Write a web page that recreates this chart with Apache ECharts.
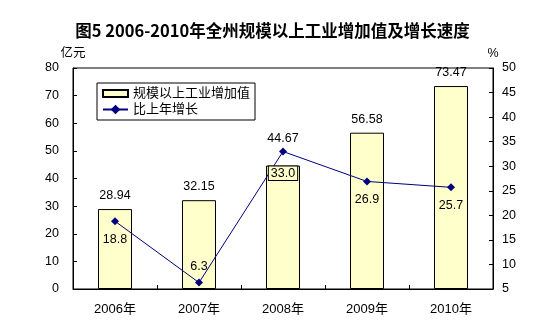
<!DOCTYPE html>
<html>
<head>
<meta charset="utf-8">
<script src="https://cdn.jsdelivr.net/npm/echarts@6/dist/echarts.min.js"></script>
<style>
  html, body { margin: 0; padding: 0; background: #fff; }
  #chart { width: 545px; height: 328px; }
</style>
</head>
<body>
<div id="chart"></div>
<script>
// Industrial value added above designated size, 2006-2010
const years = ['2006年', '2007年', '2008年', '2009年', '2010年'];
const valueAdded = [28.94, 32.15, 44.67, 56.58, 73.47];   // 亿元
const growthRate = [18.8, 6.3, 33.0, 26.9, 25.7];         // %
const growthLabelPos = ['bottom', 'top', 'bottom', 'bottom', 'bottom'];

const latin = 'Arial, "Liberation Sans", "Noto Sans CJK SC", sans-serif';

const chart = echarts.init(document.getElementById('chart'), null, { renderer: 'canvas' });

// the 2008 value label is lifted clear of the growth line
const barData = valueAdded.map((v, i) =>
  i === 2 ? { value: v, label: { distance: 21 } } : { value: v }
);

const growthData = growthRate.map((v, i) => {
  if (i === 2) {
    return {
      value: v,
      label: {
        position: 'bottom',
        distance: 11,
        backgroundColor: '#FFFFCC',
        borderColor: '#000',
        borderWidth: 1,
        padding: [1, 2, 0, 2]
      }
    };
  }
  return {
    value: v,
    label: { position: growthLabelPos[i], distance: growthLabelPos[i] === 'top' ? 6 : 8 }
  };
});

chart.setOption({
  animation: false,
  backgroundColor: '#fff',
  title: {
    text: '图5 2006-2010年全州规模以上工业增加值及增长速度',
    left: 'center',
    top: 17,
    textStyle: {
      fontFamily: '"Noto Sans CJK SC", sans-serif',
      fontWeight: 'bold',
      fontSize: 16.5,
      color: '#000'
    }
  },
  legend: {
    orient: 'vertical',
    left: 97,
    top: 83,
    borderColor: '#000',
    borderWidth: 1,
    padding: [4, 5, 4, 5],
    itemGap: 3,
    itemWidth: 25,
    itemHeight: 12,
    textStyle: { fontFamily: latin, fontSize: 13, color: '#000' },
    data: [
      { name: '规模以上工业增加值', icon: 'path://M0,0 H25 V7 H0 Z' },
      { name: '比上年增长' }
    ]
  },
  grid: {
    left: 73,
    right: 52,
    top: 68,
    bottom: 39,
    show: true,
    borderColor: '#000',
    borderWidth: 1
  },
  xAxis: {
    type: 'category',
    data: years,
    axisLine: { lineStyle: { color: '#000', width: 1 } },
    axisTick: { show: true, inside: true, length: 4, lineStyle: { color: '#000' } },
    axisLabel: { fontFamily: latin, fontSize: 13, color: '#000', margin: 14 },
    splitLine: { show: false }
  },
  yAxis: [
    {
      type: 'value',
      min: 0,
      max: 80,
      interval: 10,
      name: '亿元',
      nameLocation: 'end',
      nameGap: 8,
      nameTextStyle: { fontFamily: latin, fontSize: 12.5, color: '#000', align: 'center' },
      axisLine: { show: true, lineStyle: { color: '#000' } },
      axisTick: { show: true, inside: true, length: 4, lineStyle: { color: '#000' } },
      axisLabel: { fontFamily: latin, fontSize: 12.5, color: '#000', margin: 14 },
      splitLine: { show: false }
    },
    {
      type: 'value',
      min: 5,
      max: 50,
      interval: 5,
      name: '%',
      nameLocation: 'end',
      nameGap: 8,
      nameTextStyle: { fontFamily: latin, fontSize: 12.5, color: '#000', align: 'center' },
      axisLine: { show: true, lineStyle: { color: '#000' } },
      axisTick: { show: true, inside: true, length: 4, lineStyle: { color: '#000' } },
      axisLabel: { fontFamily: latin, fontSize: 12.5, color: '#000', margin: 9 },
      splitLine: { show: false }
    }
  ],
  series: [
    {
      name: '规模以上工业增加值',
      type: 'bar',
      yAxisIndex: 0,
      data: barData,
      barWidth: 34,
      itemStyle: { color: '#FFFFCC', borderColor: '#000', borderWidth: 1 },
      label: {
        show: true,
        position: 'top',
        distance: 7,
        fontFamily: latin,
        fontSize: 12.5,
        color: '#000',
        formatter: p => Number(p.value).toFixed(2)
      }
    },
    {
      name: '比上年增长',
      type: 'line',
      yAxisIndex: 1,
      data: growthData,
      symbol: 'diamond',
      symbolSize: 8,
      lineStyle: { color: '#000080', width: 1 },
      itemStyle: { color: '#000080' },
      label: {
        show: true,
        fontFamily: latin,
        fontSize: 12.5,
        color: '#000',
        formatter: p => Number(p.value).toFixed(1)
      },
      z: 3
    }
  ]
});
</script>
</body>
</html>
